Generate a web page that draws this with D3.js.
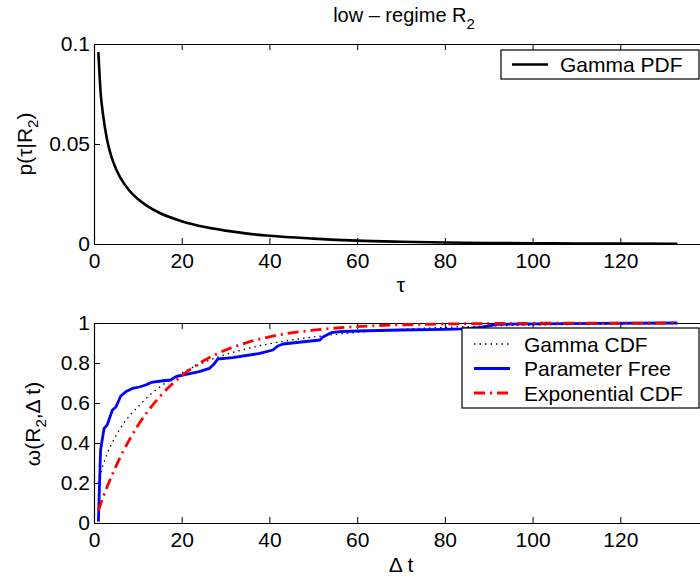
<!DOCTYPE html>
<html><head><meta charset="utf-8">
<script src="https://cdn.jsdelivr.net/npm/d3@7"></script>
<style>
html,body{margin:0;padding:0;background:#fff;}
svg{display:block;font-family:"Liberation Sans",Arial,Helvetica,sans-serif;}
</style></head>
<body>
<svg id="chart" width="700" height="582"></svg>
<script>
// ---- data ----
const tauPdf = [1,1.5,2,3,4,5,6,8,10,12,15,20,25,30,35,40,50,60,70,80,90,100,110,120,133];
const pdfVals = [0.096,0.076,0.0657,0.0519,0.0434,0.0376,0.0332,0.0269,0.0225,0.0192,0.0155,0.0114,0.0086,0.0067,0.0052,0.0041,0.0027,0.0017,0.00115,0.00077,0.00052,0.00035,0.00024,0.00017,0.0001];

const dtCdf = [1,2,3,4,5,6,8,10,12,15,20,25,30,35,40,50,60,70,80,90,100,110,120,133];
const gammaCdf = [0.20,0.285,0.345,0.394,0.436,0.473,0.534,0.58,0.625,0.68,0.75,0.802,0.842,0.872,0.896,0.93,0.953,0.968,0.978,0.985,0.99,0.993,0.995,0.997];
const expCdf = [0.062,0.125,0.181,0.234,0.283,0.33,0.413,0.487,0.551,0.632,0.736,0.811,0.865,0.903,0.931,0.964,0.982,0.991,0.995,0.9975,0.9987,0.9993,0.9997,0.9999];

const dtFree = [1,1.5,2.3,3.0,4.2,5.0,6.1,7.3,8.8,10.3,11.8,13.0,15.3,17.5,18.7,21,24,26.3,27.5,28.2,31.6,37.8,40.8,41.9,43.1,51.5,52.2,54.2,56,60,70,80,84,88,92,100,115,133];
const freeVals = [0.007,0.365,0.473,0.49,0.565,0.58,0.635,0.657,0.673,0.68,0.69,0.703,0.71,0.715,0.732,0.743,0.757,0.773,0.798,0.82,0.827,0.848,0.865,0.885,0.895,0.915,0.93,0.952,0.957,0.96,0.965,0.968,0.971,0.978,0.993,0.996,0.998,1.0];

const xTicks = [0,20,40,60,80,100,120];
const yTicksTop = [0,0.05,0.1];
const yTickLabelsTop = ["0","0.05","0.1"];
const yTicksBot = [0,0.2,0.4,0.6,0.8,1];
const yTickLabelsBot = ["0","0.2","0.4","0.6","0.8","1"];

const legendTop = ["Gamma PDF"];
const legendBot = ["Gamma CDF","Parameter Free","Exponential CDF"];

// ---- layout ----
const svg = d3.select("#chart");
const FS = 21;
const X0 = 94, X1 = 708;
const x = d3.scaleLinear().domain([0,140]).range([X0,X1]);
const yTop = d3.scaleLinear().domain([0,0.1]).range([244,44]);
const yBot = d3.scaleLinear().domain([0,1]).range([523,323]);

function drawAxes(y, yTicks, yLabels) {
  const g = svg.append("g");
  const [b, t] = y.range();
  const xb = d3.axisBottom(x).tickValues(xTicks).tickSizeInner(-6).tickSizeOuter(0).tickPadding(4).tickFormat(d3.format("d"));
  const ga = g.append("g").attr("transform",`translate(0,${b})`).call(xb);
  const xt = d3.axisTop(x).tickValues(xTicks).tickSizeInner(-6).tickSizeOuter(0).tickFormat("");
  const gt = g.append("g").attr("transform",`translate(0,${t})`).call(xt);
  const yl = d3.axisLeft(y).tickValues(yTicks).tickSizeInner(-6).tickSizeOuter(0).tickPadding(4).tickFormat((d,i)=>yLabels[i]);
  const gl = g.append("g").attr("transform",`translate(${X0},0)`).call(yl);
  const yr = d3.axisRight(y).tickValues(yTicks).tickSizeInner(-6).tickSizeOuter(0).tickFormat("");
  const gr = g.append("g").attr("transform",`translate(${X1},0)`).call(yr);
  [ga,gt,gl,gr].forEach(s=>{
    s.select(".domain").attr("stroke","#000").attr("stroke-width",1.2);
    s.selectAll(".tick line").attr("stroke","#000").attr("stroke-width",1);
    s.selectAll("text").attr("font-size",FS).attr("fill","#000").attr("font-family","Liberation Sans, Arial, sans-serif");
  });
  ga.selectAll("text").attr("dy","0.95em");
  return g;
}

// ---- top plot ----
drawAxes(yTop, yTicksTop, yTickLabelsTop);
const pdfData = tauPdf.map((t,i)=>[t,pdfVals[i]]);
svg.append("path").datum(pdfData)
  .attr("fill","none").attr("stroke","#000").attr("stroke-width",2.6)
  .attr("d", d3.line().x(d=>x(d[0])).y(d=>yTop(d[1])).curve(d3.curveMonotoneX));

// ---- bottom plot ----
drawAxes(yBot, yTicksBot, yTickLabelsBot);
const gData = dtCdf.map((t,i)=>[t,gammaCdf[i]]);
const eData = dtCdf.map((t,i)=>[t,expCdf[i]]);
const fData = dtFree.map((t,i)=>[t,freeVals[i]]);
svg.append("path").datum(gData).attr("fill","none").attr("stroke","#000").attr("stroke-width",1.3)
  .attr("stroke-dasharray","1.5,4").attr("d", d3.line().x(d=>x(d[0])).y(d=>yBot(d[1])).curve(d3.curveMonotoneX));
svg.append("path").datum(fData).attr("fill","none").attr("stroke","#0000ff").attr("stroke-width",2.8)
  .attr("stroke-linejoin","round").attr("d", d3.line().x(d=>x(d[0])).y(d=>yBot(d[1])));
svg.append("path").datum(eData).attr("fill","none").attr("stroke","#ff0000").attr("stroke-width",2.8)
  .attr("stroke-dasharray","11,5,2,5").attr("d", d3.line().x(d=>x(d[0])).y(d=>yBot(d[1])).curve(d3.curveMonotoneX));

// ---- titles & labels ----
const title = svg.append("text").attr("x",404).attr("y",22).attr("text-anchor","middle").attr("font-size",20).attr("fill","#000");
title.append("tspan").text("low \u2013 regime R");
title.append("tspan").attr("dy",7).attr("font-size",15).text("2");

svg.append("text").attr("x",401).attr("y",292).attr("text-anchor","middle").attr("font-size",FS).text("\u03c4");
svg.append("text").attr("x",401).attr("y",572).attr("text-anchor","middle").attr("font-size",FS).text("\u0394 t");

const ylT = svg.append("text").attr("transform","translate(32,144) rotate(-90)").attr("text-anchor","middle").attr("font-size",FS);
ylT.append("tspan").text("p(\u03c4|R");
ylT.append("tspan").attr("dy",6).attr("font-size",15).text("2");
ylT.append("tspan").attr("dy",-6).text(")");

const ylB = svg.append("text").attr("transform","translate(40,424) rotate(-90)").attr("text-anchor","middle").attr("font-size",FS);
ylB.append("tspan").text("\u03c9(R");
ylB.append("tspan").attr("dy",6).attr("font-size",15).text("2");
ylB.append("tspan").attr("dy",-6).text(",\u0394 t)");

// ---- legends ----
const lt = svg.append("g");
lt.append("rect").attr("x",501).attr("y",50).attr("width",198).attr("height",29).attr("fill","#fff").attr("stroke","#000").attr("stroke-width",1.2);
lt.append("line").attr("x1",512).attr("x2",548).attr("y1",64.5).attr("y2",64.5).attr("stroke","#000").attr("stroke-width",2.6);
lt.append("text").attr("x",560).attr("y",72).attr("font-size",FS).text(legendTop[0]);

const lb = svg.append("g");
lb.append("rect").attr("x",462).attr("y",328).attr("width",237).attr("height",80).attr("fill","#fff").attr("stroke","#000").attr("stroke-width",1.2);
const rowsY = [344,368.5,393];
const styles = [
  {c:"#000",w:1.3,da:"1.5,4"},
  {c:"#0000ff",w:2.8,da:null},
  {c:"#ff0000",w:2.8,da:"11,5,2,5"}
];
legendBot.forEach((name,i)=>{
  lb.append("line").attr("x1",474).attr("x2",510).attr("y1",rowsY[i]).attr("y2",rowsY[i])
    .attr("stroke",styles[i].c).attr("stroke-width",styles[i].w).attr("stroke-dasharray",styles[i].da);
  lb.append("text").attr("x",524).attr("y",rowsY[i]+7.5).attr("font-size",FS).text(name);
});
</script>
</body></html>
